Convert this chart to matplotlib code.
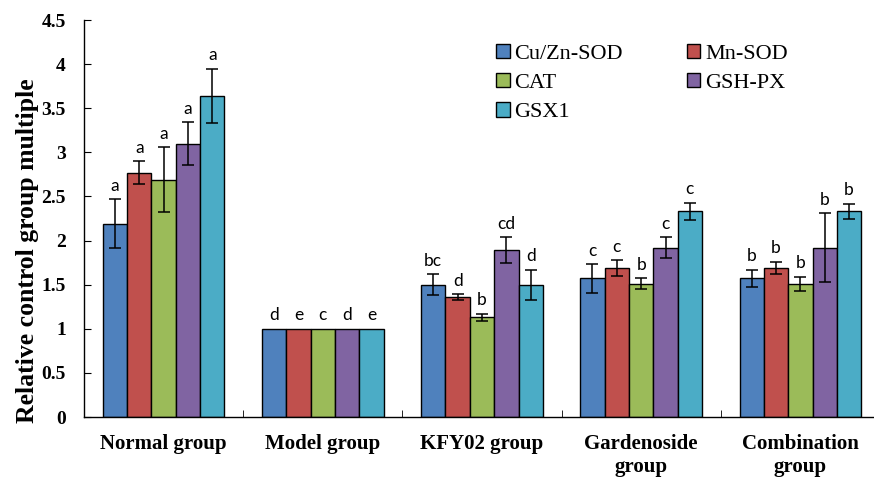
import matplotlib
matplotlib.use("Agg")
import matplotlib.pyplot as plt
import numpy as np

groups = ["Normal group", "Model group", "KFY02 group", "Gardenoside\ngroup", "Combination\ngroup"]
series = ["Cu/Zn-SOD", "Mn-SOD", "CAT", "GSH-PX", "GSX1"]
colors = ["#4F81BD", "#C0504D", "#9BBB59", "#8064A2", "#4BACC6"]

# rows = series, cols = groups
means = [
    [2.19, 1.00, 1.50, 1.57, 1.57],   # Cu/Zn-SOD
    [2.77, 1.00, 1.36, 1.69, 1.69],   # Mn-SOD
    [2.69, 1.00, 1.13, 1.51, 1.51],   # CAT
    [3.10, 1.00, 1.89, 1.92, 1.92],   # GSH-PX
    [3.64, 1.00, 1.50, 2.33, 2.33],   # GSX1
]
errors = [
    [0.28, 0.00, 0.12, 0.16, 0.10],
    [0.13, 0.00, 0.03, 0.09, 0.07],
    [0.37, 0.00, 0.04, 0.06, 0.08],
    [0.24, 0.00, 0.15, 0.12, 0.39],
    [0.31, 0.00, 0.17, 0.10, 0.09],
]
letters = [
    ["a", "d", "bc", "c", "b"],
    ["a", "e", "d", "c", "b"],
    ["a", "c", "b", "b", "b"],
    ["a", "d", "cd", "c", "b"],
    ["a", "e", "d", "c", "b"],
]

fig = plt.figure(figsize=(8.74, 4.79), dpi=100)
ax = fig.add_axes([84 / 874, 1 - 417 / 479, 796 / 874, (417 - 20) / 479])

x = np.arange(len(groups))
n = len(series)
w = 0.153
for i, name in enumerate(series):
    pos = x + (i - (n - 1) / 2) * w
    m = np.array(means[i])
    e = np.array(errors[i])
    ax.bar(pos, m, width=w, color=colors[i], edgecolor="black", linewidth=1.0, label=name)
    has_err = e > 0  # model group is the reference (=1), no error bar
    ax.errorbar(pos[has_err], m[has_err], yerr=e[has_err], fmt="none", ecolor="black",
                elinewidth=1.1, capsize=4, capthick=1.1)
    for j in range(len(groups)):
        ax.text(pos[j], m[j] + e[j] + 0.06, letters[i][j],
                ha="center", va="bottom", fontsize=12.5, family=["Lato", "DejaVu Sans"])

ax.set_xlim(-0.5, len(groups) - 0.5)
ax.set_ylim(0, 4.5)
ax.set_yticks(np.arange(0, 4.51, 0.5))
ax.set_yticklabels(["0", "0.5", "1", "1.5", "2", "2.5", "3", "3.5", "4", "4.5"],
                   family="Liberation Serif", fontweight="bold", fontsize=14)
ax.tick_params(axis="y", direction="in", length=5, pad=13)
ax.set_xticks(x)
ax.set_xticklabels(groups, family="Liberation Serif", fontweight="bold", fontsize=15, linespacing=1.2)
ax.tick_params(axis="x", length=0, pad=12)
ax.set_xticks(x[:-1] + 0.5, minor=True)
ax.tick_params(axis="x", which="minor", direction="in", length=5)

ax.set_ylabel("Relative control group multiple", family="Liberation Serif",
              fontweight="bold", fontsize=18.5)
ax.yaxis.set_label_coords(-0.056, 0.42)

for s in ["top", "right"]:
    ax.spines[s].set_visible(False)
ax.spines["left"].set_linewidth(1.0)
ax.spines["bottom"].set_linewidth(1.0)

# legend filled row by row, like the original
handles, labels = ax.get_legend_handles_labels()
order = [0, 2, 4, 1, 3]
leg = ax.legend([handles[k] for k in order], [labels[k] for k in order],
                loc="upper left", bbox_to_anchor=(0.493, 0.99), ncol=2, frameon=False,
                prop={"family": "Liberation Serif", "size": 16},
                handlelength=0.6, handleheight=0.6, handletextpad=0.2,
                columnspacing=2.9, labelspacing=0.42)
for h in leg.legend_handles:
    h.set_linewidth(1.0)

fig.savefig("out.png", dpi=100)
